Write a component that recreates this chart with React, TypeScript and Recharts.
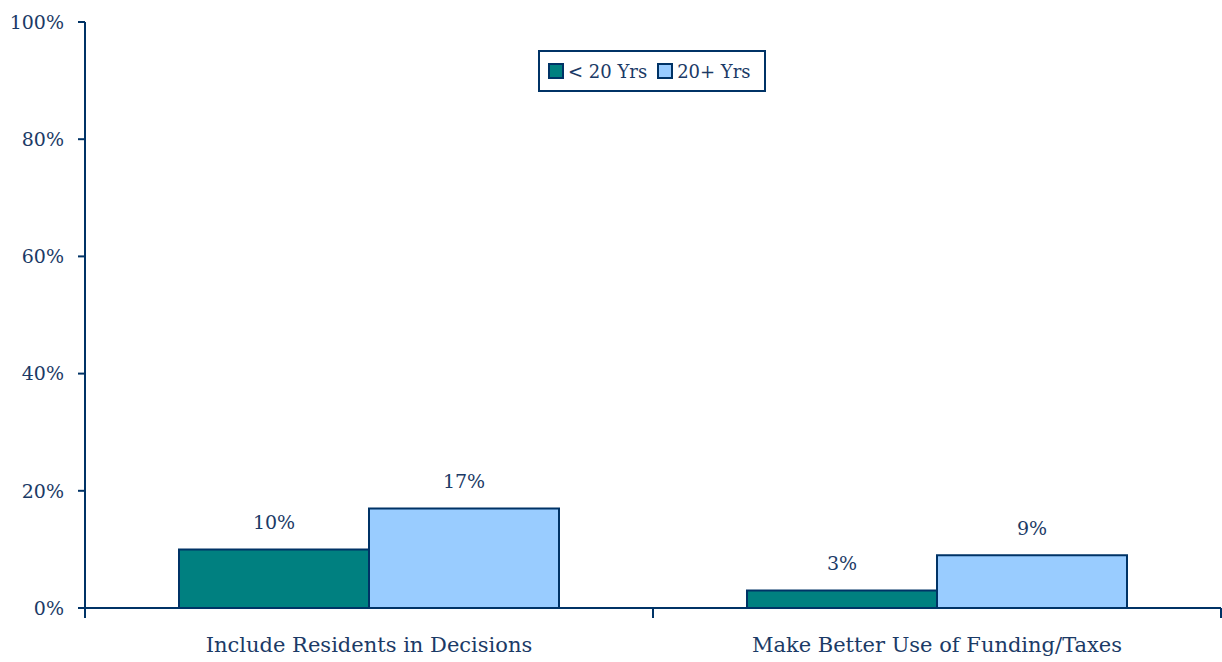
import React from 'react';
import { BarChart, Bar, XAxis, YAxis, LabelList } from 'recharts';

const categories = ['Include Residents in Decisions', 'Make Better Use of Funding/Taxes'];
const under20 = [10, 3];
const over20 = [17, 9];
const yTicks = [0, 20, 40, 60, 80, 100];

const data = categories.map((name, i) => ({ name, under20: under20[i], over20: over20[i] }));

const NAVY = '#003366';
const TEXT = '#1B3A66';
const FONT = '"DejaVu Serif", serif';

const W = 1222;
const H = 662;
const LEFT = 85;
const RIGHT = 1;
const TOP = 22;
const BOTTOM_AXIS = 54;
const band = (W - LEFT - RIGHT) / categories.length;

const CategoryTick = (props: any) => {
  const { x, y, payload, index } = props;
  const left = x - band / 2;
  return (
    <g>
      <line x1={left} y1={y - 8} x2={left} y2={y + 2} stroke={NAVY} strokeWidth={2} />
      {index === categories.length - 1 && (
        <line x1={x + band / 2} y1={y - 8} x2={x + band / 2} y2={y + 2} stroke={NAVY} strokeWidth={2} />
      )}
      <text x={x} y={y + 36} textAnchor="middle" fill={TEXT} fontSize={21} fontFamily={FONT}>
        {payload.value}
      </text>
    </g>
  );
};

const LegendBox = () => (
  <div
    style={{
      position: 'absolute',
      left: 538,
      top: 50,
      border: `2px solid ${NAVY}`,
      width: 228,
      height: 42,
      boxSizing: 'border-box',
      display: 'flex',
      alignItems: 'center',
      paddingLeft: 8,
      fontFamily: FONT,
      fontSize: 18,
      color: TEXT,
      background: '#fff',
    }}
  >
    <span style={{ width: 12, height: 12, background: '#008080', border: `2px solid ${NAVY}`, marginRight: 4 }} />
    <span style={{ marginRight: 10 }}>&lt; 20 Yrs</span>
    <span style={{ width: 12, height: 12, background: '#99CCFF', border: `2px solid ${NAVY}`, marginRight: 4 }} />
    <span>20+ Yrs</span>
  </div>
);

export default function App() {
  return (
    <div style={{ position: 'fixed', left: 0, top: 0, width: W, height: H, background: '#fff' }}>
      <BarChart width={W} height={H} data={data} margin={{ top: TOP, right: RIGHT, bottom: 0, left: 0 }} barGap={0}>
        <XAxis
          dataKey="name"
          height={BOTTOM_AXIS}
          axisLine={{ stroke: NAVY, strokeWidth: 2 }}
          tickLine={false}
          tick={<CategoryTick />}
          interval={0}
        />
        <YAxis
          width={LEFT}
          domain={[0, 100]}
          ticks={yTicks}
          tickFormatter={(v) => `${v}%`}
          axisLine={{ stroke: NAVY, strokeWidth: 2 }}
          tickLine={{ stroke: NAVY, strokeWidth: 2 }}
          tickSize={7}
          tickMargin={14}
          tick={{ fill: TEXT, fontSize: 19, fontFamily: FONT }}
        />
        <Bar dataKey="under20" name="< 20 Yrs" fill="#008080" stroke={NAVY} strokeWidth={2} barSize={190} isAnimationActive={false}>
          <LabelList dataKey="under20" position="top" offset={20} formatter={(v: any) => `${v}%`} fill={TEXT} fontSize={19} fontFamily={FONT} />
        </Bar>
        <Bar dataKey="over20" name="20+ Yrs" fill="#99CCFF" stroke={NAVY} strokeWidth={2} barSize={190} isAnimationActive={false}>
          <LabelList dataKey="over20" position="top" offset={20} formatter={(v: any) => `${v}%`} fill={TEXT} fontSize={19} fontFamily={FONT} />
        </Bar>
      </BarChart>
      <LegendBox />
    </div>
  );
}
